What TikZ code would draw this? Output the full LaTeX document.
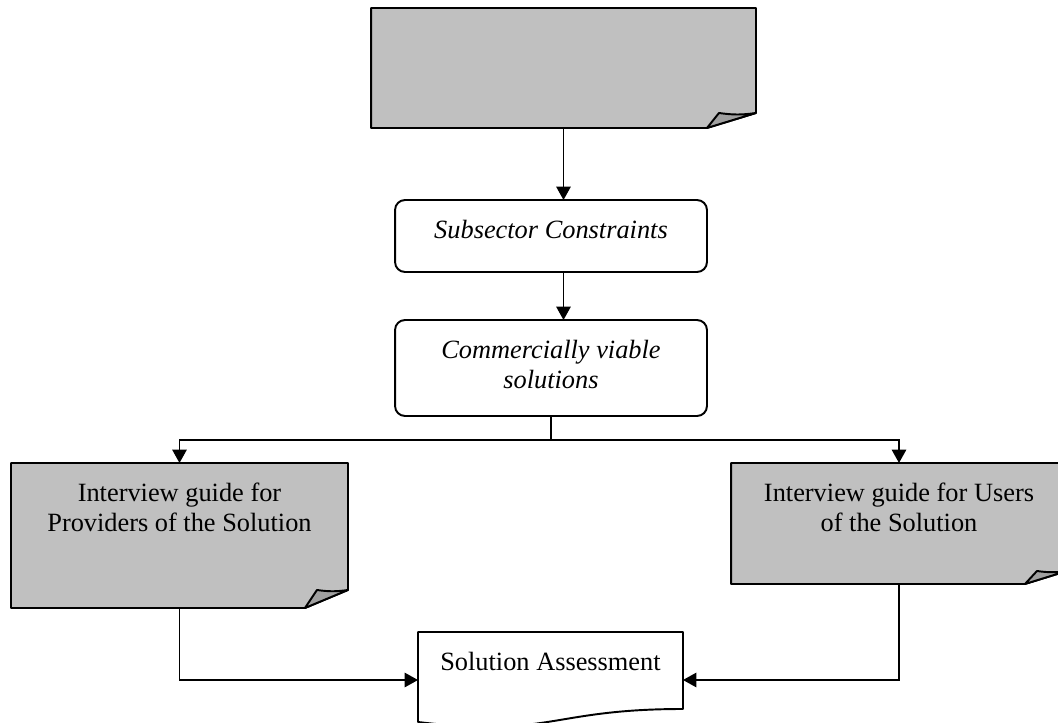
\documentclass[tikz,border=0pt]{standalone}
\usepackage{fontspec}
\setmainfont{Liberation Serif}
\usetikzlibrary{arrows.meta, backgrounds}
\definecolor{notegray}{RGB}{192,192,192}
\definecolor{curlgray}{RGB}{160,160,160}

% folded-corner note drawn behind a node: name, fold width, fold height
\newcommand{\foldnote}[3]{%
  \filldraw[fill=notegray, line width=1.1pt, line join=round]
    (#1.north west) -- (#1.north east) -- ([yshift=#3]#1.south east)
    -- ([xshift=-#2]#1.south east) -- (#1.south west) -- cycle;
  \filldraw[fill=curlgray, line width=1.1pt, line join=round]
    ([xshift=-#2]#1.south east) -- ++(0.24cm,#3)
    to[bend right=8] ([yshift=#3]#1.south east) -- cycle;
}

\begin{document}
\begin{tikzpicture}[x=0.02cm, y=-0.02cm, >={Triangle[length=0.27cm, width=0.29cm]},
    font=\fontsize{15}{17}\selectfont,
    note/.style={rectangle, draw=none, inner sep=0pt, outer sep=0pt},
    step_box/.style={rectangle, rounded corners=0.2cm, draw, line width=1.1pt,
        fill=white, minimum width=6.24cm, inner sep=0pt, outer sep=0pt},
    boxtext/.style={anchor=north, inner sep=0pt, yshift=-0.4cm, align=center},
    flow/.style={->, line width=1pt},
    wire/.style={-, line width=1pt},
]

\useasboundingbox (0,0) rectangle (1058,723);

% --- Positions ---
\def\xmid{551}
\def\xleft{179.5}
\def\xright{899}

% --- Boxes ---
\node[note, minimum width=7.7cm, minimum height=2.4cm] (top) at (563.5, 68) {};

\node[step_box, minimum height=1.44cm,
      label={[boxtext]north:\itshape Subsector Constraints}] (sub) at (\xmid, 236) {};

\node[step_box, minimum height=1.92cm,
      label={[boxtext]north:{\itshape Commercially viable\\\itshape solutions}}] (com) at (\xmid, 368) {};

\node[note, minimum width=6.74cm, minimum height=2.9cm,
      label={[boxtext]north:{Interview guide for\\Providers of the Solution}}] (prov) at (\xleft, 535.5) {};

\node[note, minimum width=6.72cm, minimum height=2.42cm,
      label={[boxtext]north:{Interview guide for Users\\of the Solution}}] (users) at (\xright, 523.5) {};

\node[note, minimum width=5.3cm, minimum height=1.92cm,
      label={[boxtext]north:Solution Assessment}] (assess) at (550.5, 680) {};

% --- Shapes behind the nodes ---
\begin{scope}[on background layer]
  \foldnote{top}{0.98cm}{0.3cm}
  \foldnote{prov}{0.86cm}{0.36cm}
  \foldnote{users}{0.84cm}{0.26cm}
  \filldraw[fill=white, line width=1.1pt, line join=round]
    (assess.north west) -- (assess.north east) -- ([yshift=0.38cm]assess.south east)
    .. controls ([yshift=0.38cm]assess.south) and ([yshift=-0.2cm]assess.south)
    .. ([yshift=0.12cm]assess.south west) -- cycle;
\end{scope}

% --- Connectors ---
\coordinate (split) at (\xmid, 440);

\draw[flow] (top.south) -- (top.south |- sub.north);
\draw[flow] (top.south |- sub.south) -- (top.south |- com.north);
\draw[wire] (com.south) -- (split);
\draw[flow] (split) -| (prov.north);
\draw[flow] (split) -| (users.north);
\draw[flow] (prov.south) |- (assess.west);
\draw[flow] (users.south) |- (assess.east);

\end{tikzpicture}
\end{document}
